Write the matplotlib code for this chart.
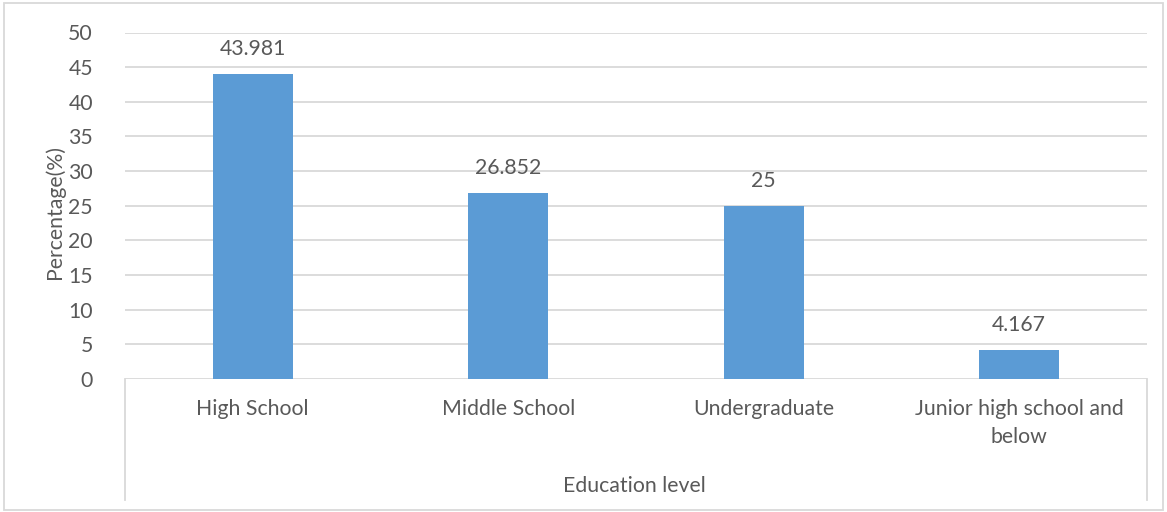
import matplotlib
matplotlib.use("Agg")
import matplotlib.pyplot as plt
from matplotlib.lines import Line2D

categories = ["High School", "Middle School", "Undergraduate", "Junior high school and\nbelow"]
values = [43.981, 26.852, 25, 4.167]
value_labels = ["43.981", "26.852", "25", "4.167"]
yticks = [0, 5, 10, 15, 20, 25, 30, 35, 40, 45, 50]

plt.rcParams['font.family'] = ['Lato', 'DejaVu Sans']
TXT = '#595959'
GRID = '#d9d9d9'
BAR = '#5b9bd5'
FS = 15.3

W, H = 1167, 512
fig = plt.figure(figsize=(W/100, H/100), dpi=100)
ax = fig.add_axes([125/W, 1-379/H, (1147-125)/W, (379-32.5)/H])

x = list(range(len(categories)))
ax.bar(x, values, width=0.313, color=BAR, zorder=3)
ax.set_xlim(-0.5, len(categories)-0.5)
ax.set_ylim(0, 50)
ax.set_yticks(yticks)
ax.set_yticklabels([str(t) for t in yticks], fontsize=FS, color=TXT)
ax.tick_params(axis='y', length=0, pad=23)
ax.set_xticks([])
for s in ax.spines.values():
    s.set_visible(False)
for t in yticks:
    ax.axhline(t, color=GRID, lw=1.3, zorder=1)

for xi, v, lab in zip(x, values, value_labels):
    ax.annotate(lab, (xi, v), xytext=(0, 25), textcoords='offset pixels',
                ha='center', va='center', fontsize=FS, color=TXT)

# category labels below axis
for xi, c in zip(x, categories):
    ax.annotate(c, (xi, 0), xytext=(0, -20), textcoords='offset pixels',
                ha='center', va='top', fontsize=FS, color=TXT, linespacing=1.5)

# vertical separator lines below the plot at both ends
for xp in (125, 1147):
    fig.add_artist(Line2D([xp/W, xp/W], [1-379/H, 1-500/H], color=GRID, lw=1.3))

fig.text(634/W, 1-486/H, "Education level", ha='center', va='center', fontsize=FS, color=TXT)
fig.text(55/W, 1-212/H, "Percentage(%)", ha='center', va='center', rotation=90, fontsize=FS, color=TXT)

# outer border
fig.add_artist(plt.Rectangle((4/W, 1-510/H), (1163-4)/W, (510-3)/H, transform=fig.transFigure,
                             fill=False, edgecolor=GRID, lw=1.3))

fig.savefig("out.png", dpi=100)
